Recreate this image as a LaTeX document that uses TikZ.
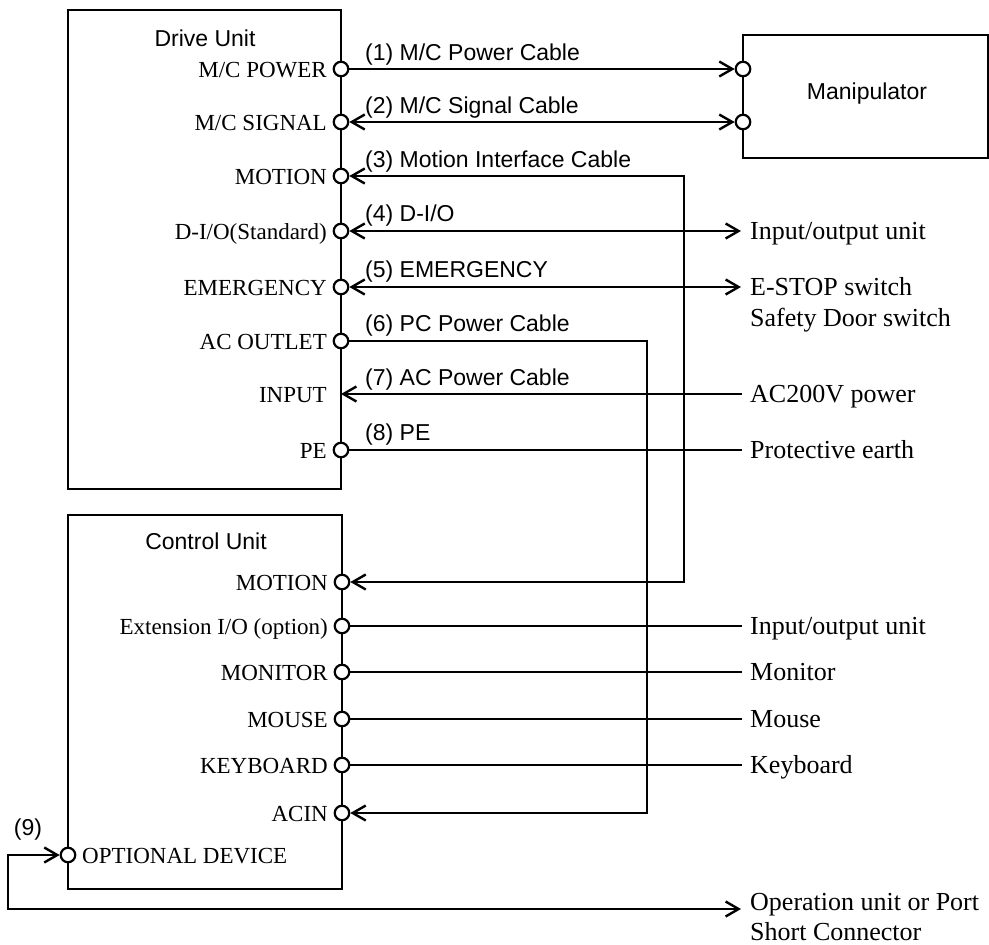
\documentclass[tikz,border=0pt]{standalone}
\usepackage{fontspec}
\setmainfont{Liberation Serif}
\setsansfont{Liberation Sans}
\usetikzlibrary{arrows.meta}
\begin{document}
\begin{tikzpicture}[x=1pt,y=-1pt,
  box/.style={draw, line width=1.8pt},
  port/.style={circle, draw, fill=white, minimum size=14.5pt, inner sep=0pt, line width=2.2pt},
  cable/.style={line width=2.6pt, arrows={Straight Barb[length=13pt,width=15pt,line width=2.4pt]-Straight Barb[length=13pt,width=15pt,line width=2.4pt]}},
  cablenone/.style={line width=2.6pt},
  tip/.style={-{Straight Barb[length=13pt,width=15pt,line width=2.4pt]}},
  plab/.style={font=\fontsize{23}{27}\selectfont\rmfamily, inner sep=0pt, anchor=mid east, yshift=-6pt},
  olab/.style={font=\fontsize{23}{27}\selectfont\rmfamily, inner sep=0pt, anchor=mid west, yshift=-6pt},
  rlab/.style={font=\fontsize{26}{30}\selectfont\rmfamily, inner sep=0pt, anchor=mid west, yshift=-6.5pt},
  clab/.style={font=\fontsize{23}{27}\selectfont\sffamily, inner sep=0pt, anchor=mid west, yshift=-6pt},
  title/.style={font=\fontsize{23}{27}\selectfont\sffamily, inner sep=0pt}
]
\useasboundingbox (0,0) rectangle (989,945);

% boxes
\draw[box] (68,10) rectangle (341,489);
\draw[box] (68,515) rectangle (342,889);
\draw[box] (743,35) rectangle (988,158);

\node[title] (dutitle) at (205,38) {Drive Unit};
\node[title] (cutitle) at (206,541) {Control Unit};
\node[title] (mantitle) at (867,94) {Manipulator};

% drive unit ports
\node[port] (du1) at (341,69) {};
\node[port] (du2) at (341,122) {};
\node[port] (du3) at (341,176) {};
\node[port] (du4) at (341,231) {};
\node[port] (du5) at (341,287) {};
\node[port] (du6) at (341,341) {};
\coordinate (du7) at (341,394);
\node[port] (du8) at (341,450) {};

\node[plab] (l1) at (327,69) {M/C POWER};
\node[plab] (l2) at (327,122) {M/C SIGNAL};
\node[plab] (l3) at (327,176) {MOTION};
\node[plab] (l4) at (327,231) {D-I/O(Standard)};
\node[plab] (l5) at (327,287) {EMERGENCY};
\node[plab] (l6) at (327,341) {AC OUTLET};
\node[plab] (l7) at (327,394) {INPUT};
\node[plab] (l8) at (327,450) {PE};

% manipulator ports
\node[port] (m1) at (743,69) {};
\node[port] (m2) at (743,122) {};

% control unit ports
\node[port] (cu1) at (342,582) {};
\node[port] (cu2) at (342,626) {};
\node[port] (cu3) at (342,672) {};
\node[port] (cu4) at (342,719) {};
\node[port] (cu5) at (342,765) {};
\node[port] (cu6) at (342,813) {};
\node[port] (cu9) at (68,855) {};

\node[plab] (k1) at (328,582) {MOTION};
\node[plab] (k2) at (328,626) {Extension I/O (option)};
\node[plab] (k3) at (328,672) {MONITOR};
\node[plab] (k4) at (328,719) {MOUSE};
\node[plab] (k5) at (328,765) {KEYBOARD};
\node[plab] (k6) at (328,813) {ACIN};
\node[olab] (k9) at (82,855) {OPTIONAL DEVICE};

% right side texts
\node[rlab] (r4) at (750,231) {Input/output unit};
\node[rlab] (r5) at (750,287) {E-STOP switch};
\node[rlab] (r5b) at (750,318) {Safety Door switch};
\node[rlab] (r7) at (750,394) {AC200V power};
\node[rlab] (r8) at (750,450) {Protective earth};
\node[rlab] (s2) at (750,626) {Input/output unit};
\node[rlab] (s3) at (750,672) {Monitor};
\node[rlab] (s4) at (750,719) {Mouse};
\node[rlab] (s5) at (750,765) {Keyboard};
\node[rlab] (s9) at (750,902) {Operation unit or Port};
\node[rlab] (s9b) at (750,932) {Short Connector};

\coordinate (e4) at (741,231);
\coordinate (e5) at (741,287);
\coordinate (e7) at (742,394);
\coordinate (e8) at (742,450);
\coordinate (f2) at (742,626);
\coordinate (f3) at (742,672);
\coordinate (f4) at (742,719);
\coordinate (f5) at (742,765);
\coordinate (c3) at (684,176);
\coordinate (c6) at (647,341);
\coordinate (c9) at (8,855);
\coordinate (e9) at (741,909);

% cables
\draw[cablenone, tip] (du1) -- (m1);
\draw[cable] (du2) -- (m2);
\draw[cable] (du3) -- (c3) |- (cu1);
\draw[cable] (du4) -- (e4);
\draw[cable] (du5) -- (e5);
\draw[cablenone, tip] (du6) -- (c6) |- (cu6);
\draw[cablenone, tip] (e7) -- (du7);
\draw[cablenone] (du8) -- (e8);
\draw[cablenone] (cu2) -- (f2);
\draw[cablenone] (cu3) -- (f3);
\draw[cablenone] (cu4) -- (f4);
\draw[cablenone] (cu5) -- (f5);
\draw[cable] (cu9) -- (c9) |- (e9);

% cable labels
\node[clab] (t1) at (365,52) {(1) M/C Power Cable};
\node[clab] (t2) at (365,105) {(2) M/C Signal Cable};
\node[clab] (t3) at (365,159) {(3) Motion Interface Cable};
\node[clab] (t4) at (365,213) {(4) D-I/O};
\node[clab] (t5) at (365,269) {(5) EMERGENCY};
\node[clab] (t6) at (365,323) {(6) PC Power Cable};
\node[clab] (t7) at (365,377) {(7) AC Power Cable};
\node[clab] (t8) at (365,432) {(8) PE};
\node[title] (t9) at (28,830) {(9)};
\end{tikzpicture}
\end{document}
